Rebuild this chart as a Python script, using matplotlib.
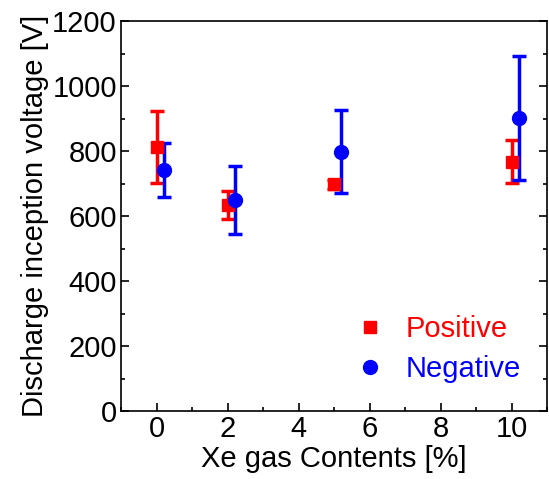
import matplotlib.pyplot as plt
from matplotlib.ticker import MultipleLocator

plt.rcParams['font.family'] = ['Liberation Sans', 'DejaVu Sans']

# data
xe_pos = [0, 2, 5, 10]
v_pos = [813, 634, 697, 767]
err_pos = [110, 42, 15, 66]

xe_neg = [0.2, 2.2, 5.2, 10.2]
v_neg = [741, 649, 798, 902]
err_neg = [83, 105, 128, 190]

fig = plt.figure(figsize=(5.49, 4.79), dpi=100)
ax = fig.add_axes([121 / 549, 1 - 411 / 479, 426 / 549, 390 / 479])

eb1 = ax.errorbar(xe_pos, v_pos, yerr=err_pos, fmt='s', color='red', ms=9,
                  elinewidth=2.5, capsize=5, capthick=2.5)
eb2 = ax.errorbar(xe_neg, v_neg, yerr=err_neg, fmt='o', color='blue', ms=10,
                  elinewidth=2.5, capsize=5, capthick=2.5)

ax.set_xlim(-1, 11)
ax.set_ylim(0, 1200)
ax.xaxis.set_major_locator(MultipleLocator(2))
ax.xaxis.set_minor_locator(MultipleLocator(1))
ax.yaxis.set_major_locator(MultipleLocator(200))
ax.yaxis.set_minor_locator(MultipleLocator(100))
ax.tick_params(which='both', direction='in', right=True, top=False,
               labelsize=21, width=1.2, pad=3)
ax.tick_params(which='major', length=6)
ax.tick_params(which='minor', length=3)
for s in ax.spines.values():
    s.set_linewidth(1.2)

ax.set_xlabel('Xe gas Contents [%]', fontsize=21, labelpad=1)
ax.set_ylabel('Discharge inception voltage [V]', fontsize=21, labelpad=2)

leg = ax.legend([eb1[0], eb2[0]], ['Positive', 'Negative'],
                loc='lower right', bbox_to_anchor=(1.0, 0.005), frameon=False,
                fontsize=21, handletextpad=0.7, labelspacing=0.4,
                handlelength=1.0)
for txt, c in zip(leg.get_texts(), ['red', 'blue']):
    txt.set_color(c)

fig.savefig('out.png', dpi=100)
